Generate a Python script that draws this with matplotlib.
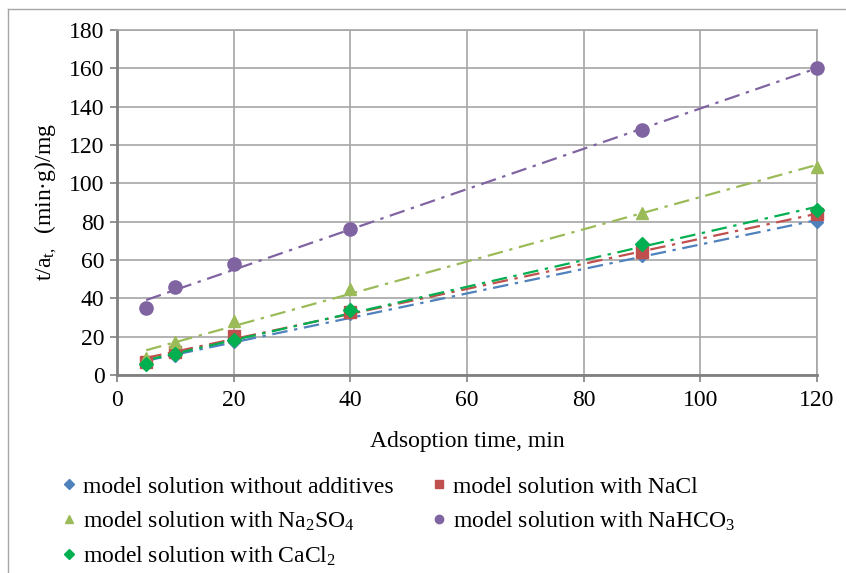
import matplotlib.pyplot as plt
from matplotlib.lines import Line2D
import numpy as np

plt.rcParams['font.family'] = ['Liberation Serif', 'DejaVu Serif']
plt.rcParams['mathtext.fontset'] = 'custom'
plt.rcParams['mathtext.rm'] = 'Liberation Serif'
plt.rcParams['mathtext.it'] = 'Liberation Serif:italic'

# adsorption time, min
time = [5, 10, 20, 40, 90, 120]

# t/a_t values
without_additives = [6.5, 10, 17, 32, 62, 80]
with_nacl = [7, 12, 20.5, 33, 64, 84]
with_na2so4 = [9, 17, 28, 45, 84.5, 108.5]
with_nahco3 = [35, 46, 58, 76, 128, 160]
with_cacl2 = [6, 11, 18.5, 34, 68.5, 86]

labels = ['model solution without additives',
          'model solution with NaCl',
          'model solution with Na$_2$SO$_4$',
          'model solution with NaHCO$_3$',
          'model solution with CaCl$_2$']

series = [without_additives, with_nacl, with_na2so4, with_nahco3, with_cacl2]
colors = ['#4F81BD', '#C0504D', '#9BBB59', '#8064A2', '#00B050']
markers = ['D', 's', '^', 'o', 'D']
msizes = [6, 8, 9, 9.5, 7]

fig = plt.figure(figsize=(8.46, 5.73), dpi=100)
ax = fig.add_axes([117/846, 1 - 375/573, 700/846, 345/573])

x = np.array(time)
xfit = np.array([5, 120])
for ys, c, m, ms in zip(series, colors, markers, msizes):
    # linear trendline through each series
    k, b = np.polyfit(x, ys, 1)
    ax.plot(xfit, k * xfit + b, color=c, lw=1.6, dashes=(7, 3, 1.5, 3), zorder=2)
    ax.plot(x, ys, ls='none', marker=m, color=c, ms=ms, zorder=3, clip_on=False)

ax.set_xlim(0, 120)
ax.set_ylim(0, 180)
ax.set_xticks(range(0, 121, 20))
ax.set_yticks(range(0, 181, 20))
ax.grid(True, color='#a6a6a6', lw=1.2)
ax.set_axisbelow(True)
for s in ['top', 'right']:
    ax.spines[s].set_color('#a6a6a6')
    ax.spines[s].set_linewidth(1.2)
for s in ['left', 'bottom']:
    ax.spines[s].set_color('#808080')
    ax.spines[s].set_linewidth(2)
ax.tick_params(labelsize=17, length=5, color='#808080', width=1.2)
ax.tick_params(axis='x', pad=6)
ax.tick_params(axis='y', pad=4)

ax.set_xlabel('Adsoption time, min', fontsize=17, labelpad=14)
ax.set_ylabel('t/a$_{\\mathrm{t},}$  (min·g)/mg', fontsize=17, labelpad=7)

handles = []
for c, m, lab in zip(colors, markers, labels):
    handles.append(Line2D([], [], ls='none', marker=m, color=c,
                          ms=6 if m != 'D' else 5, label=lab))
order = [0, 2, 4, 1, 3]
fig.legend([handles[i] for i in order], [labels[i] for i in order],
           loc='upper left', bbox_to_anchor=(62/846, 1 - 476/573),
           ncol=2, frameon=False, fontsize=17, handlelength=0.6,
           handletextpad=0.3, columnspacing=1.6, labelspacing=0.5,
           borderaxespad=0, borderpad=0)

# outer chart frame
fig.add_artist(Line2D([8/846, 8/846], [0, 1 - 9/573], color='#a6a6a6', lw=1))
fig.add_artist(Line2D([8/846, 1], [1 - 9/573, 1 - 9/573], color='#a6a6a6', lw=1))

fig.savefig('out.png', dpi=100)
